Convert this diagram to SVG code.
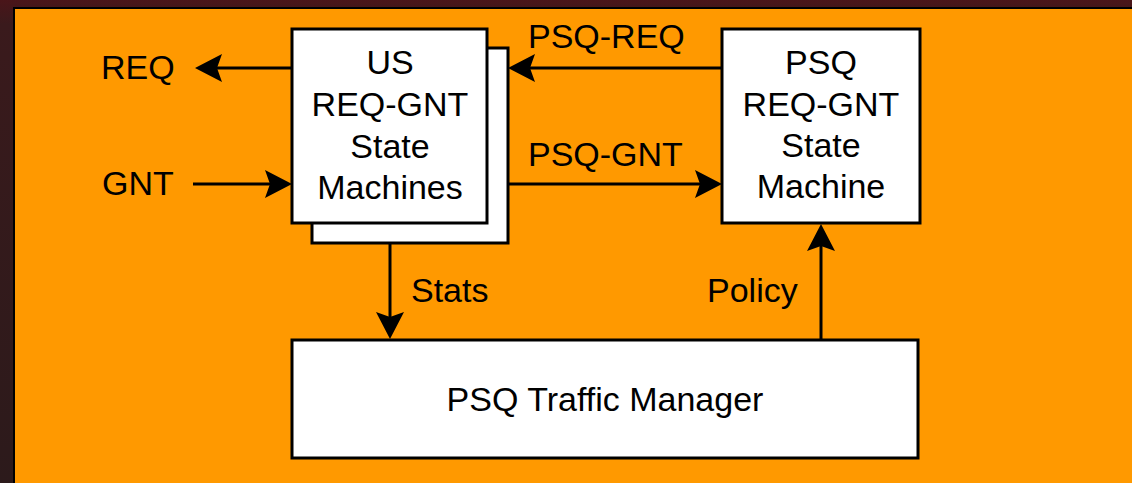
<svg xmlns="http://www.w3.org/2000/svg" width="1132" height="483" viewBox="0 0 1132 483">
  <style>
    .box { fill: #ffffff; stroke: #000000; stroke-width: 3; }
    .wire { fill: none; stroke: #000000; stroke-width: 3; marker-end: url(#head); }
    text { font-family: "Liberation Sans", Arial, sans-serif; font-size: 34px; fill: #000000; }
    .mid { text-anchor: middle; }
  </style>
  <defs>
    <marker id="head" markerUnits="userSpaceOnUse" markerWidth="27" markerHeight="28" viewBox="0 0 27 28" refX="5" refY="14" orient="auto">
      <path d="M0,0 L27,14 L0,28 L5,14 Z" fill="#000000"/>
    </marker>
    <linearGradient id="frame" x1="0" y1="0" x2="0" y2="1">
      <stop offset="0" stop-color="#4a1519"/>
      <stop offset="0.05" stop-color="#3a1a1c"/>
      <stop offset="1" stop-color="#2c1a1b"/>
    </linearGradient>
  </defs>

  <!-- page frame and panel -->
  <rect x="0" y="0" width="1132" height="483" fill="url(#frame)"/>
  <rect x="14" y="8" width="1130" height="490" fill="#ff9900" stroke="#000000" stroke-width="2"/>

  <!-- connectors -->
  <g id="connectors">
    <line class="wire" x1="292" y1="68" x2="217" y2="68"/>
    <line class="wire" x1="193" y1="184" x2="270" y2="184"/>
    <line class="wire" x1="722" y1="68" x2="530" y2="68"/>
    <line class="wire" x1="508" y1="184" x2="700" y2="184"/>
    <line class="wire" x1="390" y1="243" x2="390" y2="317"/>
    <line class="wire" x1="821" y1="340" x2="821" y2="246"/>
  </g>

  <!-- connector labels -->
  <g id="labels">
    <text x="101" y="79">REQ</text>
    <text x="102" y="195">GNT</text>
    <text x="528" y="48">PSQ-REQ</text>
    <text x="528" y="166">PSQ-GNT</text>
    <text x="411" y="302">Stats</text>
    <text x="707" y="302">Policy</text>
  </g>

  <!-- upstream state machines (stacked) -->
  <g id="us-state-machines">
    <rect class="box" x="312" y="48" width="196" height="195"/>
    <rect class="box" x="292" y="29" width="195" height="194"/>
    <text class="mid" x="390" y="74">US</text>
    <text class="mid" x="390" y="116">REQ-GNT</text>
    <text class="mid" x="390" y="158">State</text>
    <text class="mid" x="390" y="199">Machines</text>
  </g>

  <!-- PSQ state machine -->
  <g id="psq-state-machine">
    <rect class="box" x="722" y="29" width="198" height="194"/>
    <text class="mid" x="821" y="74">PSQ</text>
    <text class="mid" x="821" y="116">REQ-GNT</text>
    <text class="mid" x="821" y="157">State</text>
    <text class="mid" x="821" y="198">Machine</text>
  </g>

  <!-- traffic manager -->
  <g id="psq-traffic-manager">
    <rect class="box" x="292" y="340" width="626" height="118"/>
    <text class="mid" x="605" y="411">PSQ Traffic Manager</text>
  </g>
</svg>
